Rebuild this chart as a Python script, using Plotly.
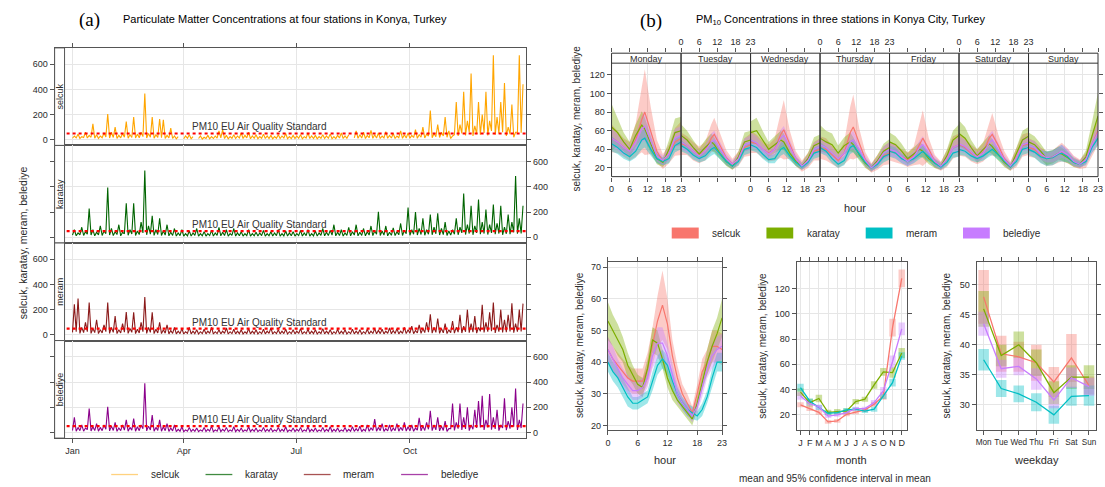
import plotly.graph_objects as go
import pandas as pd

# ======================= (a) time series: per 3-day bin, a peak and a low reading =======================
START = "2018-01-01"
STEP_DAYS = 3
SELCUK = [30, 45, 25, 60, 35, 126, 40, 30, 55, 205, 60, 100, 35, 50, 145, 40, 180, 45, 60, 368,
          50, 180, 40, 165, 158, 35, 92, 30, 25, None, 30, 40, 25, None, 30, 20, 35, 25, 30, 70,
          80, 35, 25, 40, 30, 55, 35, 60, 30, 40, 25, 45, 30, 35, 25, 40, 30, 50, 25, 35,
          30, 40, 25, 55, 30, 35, 25, 40, 30, 45, 25, 35, 55, 30, 40, None, 70, 40, 60, 35,
          75, 40, 55, 30, 65, 35, 50, 30, 70, 40, 55, 35, 80, 40, 100, 45, 231, 50, 120, 60,
          180, 70, 30, 300, 120, 380, 150, 526, 110, 300, 200, 380, 150, 670, 180, 300, 450, 100, 280, 60,
          670, 440]
SELCUK_LOW = [12, 15, 10, 18, 14, 20, 12, 10, 16, 22, 14, 18, 10, 15, 20, 12, 18, 14, 16, 25,
              14, 20, 12, 18, 16, 10, 14, 10, 8, None, 8, 12, 8, None, 10, 6, 10, 8, 10, 14,
              15, 10, 8, 12, 10, 14, 10, 15, 8, 12, 8, 12, 10, 10, 8, 12, 10, 14, 8, 10,
              10, 12, 8, 14, 10, 10, 8, 12, 10, 12, 8, 10, 14, 10, 12, None, 15, 12, 14, 10,
              16, 12, 14, 10, 15, 12, 14, 10, 16, 12, 14, 12, 18, 12, 20, 14, 30, 16, 24, 18,
              30, 20, 10, 40, 30, 50, 35, 60, 30, 45, 40, 55, 35, 70, 40, 50, 60, 30, 45, 20,
              60, 55]
KARATAY = [60, 35, 80, 45, 229, 60, 40, 90, 50, 395, 70, 45, 100, 40, 271, 60, 271, 50, 120, 531,
           90, 170, 60, 150, 50, 100, 40, 70, 35, 60, 30, 50, 35, 70, 30, 45, 30, 55, 35, 80,
           40, 60, 30, 70, 35, 45, 30, 60, 30, 40, 35, 55, 30, 45, 35, 60, 30, 50, 35, 45,
           30, 55, 35, 60, 30, 50, 35, 70, 40, 55, 100, 40, 60, 35, 80, 45, 100, 40, 70, 45,
           90, 50, 202, 50, 90, 40, 75, 45, 110, 55, 237, 60, 200, 70, 150, 60, 180, 80, 190, 70,
           120, 50, 60, 150, 80, 347, 100, 250, 90, 300, 120, 220, 100, 260, 110, 250, 80, 180, 120, 487,
           150, 250]
KARATAY_LOW = [18, 12, 20, 15, 25, 18, 12, 20, 15, 30, 18, 14, 22, 12, 28, 16, 26, 14, 22, 35,
               20, 25, 15, 22, 14, 18, 12, 15, 10, 14, 10, 12, 10, 15, 10, 12, 10, 14, 10, 16,
               12, 14, 10, 15, 10, 12, 10, 14, 10, 12, 10, 14, 10, 12, 10, 14, 10, 12, 10, 12,
               10, 14, 10, 14, 10, 12, 10, 15, 12, 14, 18, 12, 14, 10, 16, 12, 18, 12, 15, 12,
               18, 14, 25, 14, 18, 12, 16, 14, 20, 15, 28, 16, 25, 18, 22, 16, 25, 20, 28, 18,
               22, 15, 18, 25, 20, 35, 22, 30, 20, 35, 25, 30, 22, 35, 25, 30, 20, 28, 25, 40,
               28, 30]
MERAM = [243, 288, 60, 100, 256, 50, 120, 40, 80, 256, 60, 150, 40, 90, 182, 50, 180, 45, 100, 300,
         60, 180, 45, 100, 40, 80, 35, 60, 30, 50, 25, 60, 30, 40, 25, 45, 30, 60, 25, 40,
         30, 55, 25, 45, 30, 40, 25, 50, 30, 40, 25, 45, 30, 55, 25, 40, 30, 45, 25, 40,
         30, 50, 25, 45, 30, 40, 25, 50, 30, 40, 25, 45, 30, 40, 25, 45, 30, 40, 25, 45,
         30, 50, 35, 45, 30, 55, 35, 50, 30, 60, 40, 70, 35, 80, 50, 100, 164, 60, 130, 50,
         90, 40, 110, 60, 160, 70, 200, 90, 150, 60, 238, 100, 180, 256, 80, 200, 120, 160, 250, 90,
         200, 248]
MERAM_LOW = [20, 25, 12, 18, 25, 12, 18, 10, 15, 25, 12, 20, 10, 15, 22, 12, 20, 10, 15, 25,
             12, 20, 10, 15, 10, 14, 8, 12, 8, 10, 7, 12, 8, 10, 7, 10, 8, 12, 7, 10,
             8, 12, 7, 10, 8, 10, 7, 11, 8, 10, 7, 10, 8, 12, 7, 10, 8, 10, 7, 10,
             8, 11, 7, 10, 8, 10, 7, 11, 8, 10, 7, 10, 8, 10, 7, 10, 8, 10, 7, 10,
             8, 11, 9, 10, 8, 12, 9, 11, 8, 12, 10, 14, 9, 15, 12, 18, 22, 14, 20, 12,
             16, 10, 18, 14, 22, 15, 25, 18, 22, 14, 28, 20, 25, 30, 16, 25, 20, 22, 28, 18,
             25, 28]
BELEDIYE = [119, 40, 60, 35, 190, 45, 70, 40, 60, 204, 50, 80, 35, 60, 100, 40, 110, 45, 60, 391,
            50, 137, 40, 100, 45, 70, 35, 60, 25, 45, 20, 40, 25, 35, 20, 40, 25, 50, 20, 45,
            25, 40, 20, 45, 25, 35, 20, 45, 25, 35, 20, 40, 25, 35, 20, 40, 25, 45, 20, 35,
            25, 40, 20, 45, 25, 35, 20, 40, 25, 45, 25, 35, 20, 40, 25, 45, 30, 50, 25, 60,
            35, 106, 40, 70, 30, 60, 35, 70, 40, 80, 45, 60, 35, 116, 50, 80, 172, 60, 120, 50,
            90, 30, 230, 80, 230, 120, 200, 60, 180, 250, 290, 100, 304, 120, 180, 60, 270, 90, 200, 349,
            100, 230]
BELEDIYE_LOW = [15, 10, 14, 10, 22, 12, 15, 10, 14, 25, 12, 16, 9, 14, 18, 10, 18, 10, 14, 30,
                12, 20, 10, 16, 10, 14, 8, 12, 7, 10, 6, 10, 7, 9, 6, 10, 7, 11, 6, 10,
                7, 10, 6, 10, 7, 9, 6, 10, 7, 9, 6, 10, 7, 9, 6, 10, 7, 10, 6, 9,
                7, 10, 6, 10, 7, 9, 6, 10, 7, 10, 7, 9, 6, 10, 7, 10, 8, 11, 7, 12,
                9, 16, 10, 14, 8, 12, 9, 14, 10, 15, 11, 13, 9, 18, 12, 16, 25, 14, 20, 12,
                16, 8, 30, 16, 30, 20, 28, 14, 25, 35, 40, 20, 40, 22, 28, 14, 35, 18, 30, 45,
                20, 35]
STATIONS = ["selcuk", "karatay", "meram", "belediye"]
EU_STANDARD = 50
EU_LABEL = "PM10 EU Air Quality Standard"
EU_LABEL_DATE = "2018-06-01"
A_TICKVALS = ["2018-01-01", "2018-04-01", "2018-07-01", "2018-10-01"]
A_TICKTEXT = ["Jan", "Apr", "Jul", "Oct"]
A_YTICKS = [0, 200, 400, 600]

# ======================= (b) day-of-week x hour =======================
DAYS = ["Monday", "Tuesday", "Wednesday", "Thursday", "Friday", "Saturday", "Sunday"]
W_HOURS = [0, 2, 4, 6, 8, 10, 11, 13, 15, 17, 19, 21, 23]
WEEK_SELCUK = [
    [52, 48, 42, 38, 50, 72, 80, 60, 38, 27, 35, 48, 52],
    [46, 44, 38, 34, 38, 52, 56, 44, 31, 24, 30, 42, 45],
    [48, 46, 40, 36, 40, 56, 61, 45, 30, 22, 28, 38, 40],
    [42, 40, 34, 28, 36, 58, 64, 47, 29, 20, 26, 33, 36],
    [38, 36, 32, 29, 33, 46, 52, 40, 27, 22, 30, 42, 45],
    [45, 42, 36, 32, 37, 52, 56, 44, 30, 22, 31, 44, 46],
    [42, 40, 34, 30, 31, 35, 37, 33, 27, 24, 28, 45, 60]]
WEEK_KARATAY = [
    [64, 58, 48, 40, 55, 66, 62, 45, 30, 26, 40, 58, 60],
    [55, 50, 42, 35, 42, 48, 45, 35, 27, 22, 32, 48, 50],
    [58, 60, 50, 40, 45, 50, 48, 36, 27, 22, 30, 44, 47],
    [52, 48, 45, 36, 44, 48, 45, 34, 25, 20, 28, 38, 42],
    [48, 45, 38, 30, 35, 40, 38, 30, 25, 22, 33, 50, 55],
    [57, 52, 42, 33, 40, 46, 43, 34, 26, 21, 35, 50, 54],
    [48, 45, 38, 30, 32, 36, 35, 31, 26, 24, 32, 55, 76]]
WEEK_MERAM = [
    [46, 42, 36, 32, 38, 50, 52, 40, 30, 27, 30, 44, 48],
    [44, 40, 34, 30, 33, 40, 42, 34, 27, 22, 27, 40, 42],
    [45, 42, 35, 29, 30, 40, 42, 33, 26, 21, 26, 36, 38],
    [42, 38, 30, 24, 28, 42, 44, 35, 26, 20, 24, 32, 35],
    [38, 36, 30, 27, 30, 36, 38, 32, 25, 21, 26, 36, 38],
    [40, 38, 33, 30, 33, 38, 40, 34, 27, 21, 27, 40, 42],
    [40, 37, 32, 30, 31, 35, 36, 32, 26, 24, 27, 42, 52]]
WEEK_BELEDIYE = [
    [52, 48, 42, 38, 48, 62, 65, 50, 33, 28, 35, 52, 55],
    [48, 44, 38, 33, 38, 48, 50, 40, 30, 24, 30, 45, 47],
    [50, 47, 40, 35, 40, 52, 55, 42, 30, 22, 28, 40, 43],
    [45, 42, 36, 30, 36, 48, 50, 40, 28, 20, 26, 36, 40],
    [40, 38, 32, 27, 32, 42, 45, 36, 27, 22, 30, 42, 45],
    [46, 43, 37, 32, 36, 47, 50, 40, 29, 22, 31, 45, 47],
    [44, 42, 35, 31, 32, 36, 38, 34, 27, 24, 29, 45, 58]]
WCI_SELCUK = [
    [15, 12, 10, 10, 18, 35, 46, 25, 12, 8, 10, 15, 18],
    [12, 10, 10, 9, 10, 15, 18, 12, 8, 6, 8, 10, 12],
    [12, 10, 9, 9, 12, 25, 32, 15, 8, 6, 8, 10, 12],
    [12, 12, 10, 8, 12, 28, 35, 15, 8, 5, 8, 10, 12],
    [10, 10, 8, 8, 10, 22, 30, 12, 7, 5, 9, 12, 12],
    [12, 10, 9, 8, 10, 18, 23, 12, 8, 5, 10, 12, 12],
    [10, 9, 8, 8, 8, 9, 10, 8, 6, 5, 8, 12, 15]]
WCI_KARATAY = [
    [25, 15, 10, 8, 12, 15, 12, 9, 6, 5, 10, 15, 15],
    [12, 10, 8, 6, 8, 9, 8, 6, 5, 4, 6, 10, 10],
    [12, 14, 10, 8, 9, 10, 9, 6, 5, 4, 6, 9, 9],
    [14, 12, 12, 8, 9, 10, 8, 6, 5, 4, 6, 8, 9],
    [10, 9, 8, 6, 7, 8, 7, 6, 5, 4, 7, 10, 12],
    [14, 12, 8, 7, 8, 9, 8, 6, 5, 4, 7, 10, 10],
    [10, 9, 8, 7, 7, 7, 7, 6, 5, 4, 7, 14, 25]]
WCI_MERAM = [
    [8, 7, 6, 5, 7, 10, 10, 7, 5, 4, 5, 7, 8],
    [6, 5, 5, 4, 5, 7, 7, 5, 4, 3, 4, 6, 6],
    [6, 5, 5, 4, 5, 7, 7, 5, 4, 3, 4, 6, 6],
    [6, 5, 5, 4, 5, 7, 7, 5, 4, 3, 4, 6, 6],
    [6, 6, 5, 5, 5, 6, 6, 5, 4, 3, 4, 5, 6],
    [6, 5, 5, 4, 5, 6, 6, 5, 4, 3, 4, 6, 6],
    [6, 6, 7, 8, 8, 8, 9, 6, 4, 3, 4, 6, 8]]
WCI_BELEDIYE = [
    [10, 9, 8, 6, 9, 14, 16, 10, 6, 5, 7, 10, 10],
    [8, 7, 6, 5, 6, 9, 10, 7, 5, 4, 5, 7, 8],
    [8, 7, 6, 5, 6, 9, 10, 7, 5, 4, 5, 7, 8],
    [8, 7, 6, 5, 6, 9, 10, 7, 5, 4, 5, 7, 8],
    [7, 7, 6, 5, 6, 8, 9, 6, 5, 4, 5, 7, 8],
    [8, 7, 6, 5, 6, 9, 10, 7, 5, 4, 5, 7, 8],
    [7, 7, 6, 5, 6, 7, 7, 6, 5, 4, 5, 8, 10]]
W_XTICKS = [0, 6, 12, 18, 23]
W_YTICKS = [20, 40, 60, 80, 100, 120]

# ======================= (b) hour of day =======================
HOURS = list(range(24))
HOUR_SELCUK = [44, 41, 39, 37, 35, 34, 34, 34, 38, 45, 53, 58, 52, 42, 35, 30, 27, 24, 30, 37, 40, 45, 45, 44]
HOUR_KARATAY = [53, 50, 47, 44, 39, 36, 33, 32, 38, 47, 46, 41, 35, 31, 28, 26, 24, 22, 27, 34, 40, 45, 49, 54]
HOUR_MERAM = [40, 37, 35, 32, 29, 27, 27, 28, 29, 34, 39, 41, 39, 34, 30, 27, 25, 24, 23, 25, 29, 35, 40, 40]
HOUR_BELEDIYE = [44, 41, 38, 35, 33, 31, 31, 32, 35, 42, 46, 46, 42, 36, 30, 27, 25, 23, 26, 32, 38, 42, 44, 45]
HCI_SELCUK = [4, 4, 4, 4, 4, 4, 4, 4, 5, 6, 8, 11, 8, 5, 4, 3, 3, 2, 3, 4, 4, 5, 5, 5]
HCI_KARATAY = [6, 5, 5, 4, 4, 3, 3, 3, 3, 4, 4, 3, 3, 3, 2, 2, 2, 2, 2, 3, 4, 5, 5, 6]
HCI_MERAM = [3, 3, 3, 3, 3, 2, 2, 2, 2, 3, 3, 3, 3, 3, 2, 2, 2, 2, 1.5, 2, 2, 3, 3, 3]
HCI_BELEDIYE = [4, 4, 3, 3, 3, 3, 3, 3, 3, 4, 5, 5, 4, 3, 3, 2, 2, 2, 2, 3, 3, 4, 4, 4]
H_YTICKS = [20, 30, 40, 50, 60, 70]

# ======================= (b) month =======================
MONTHS = list(range(1, 13))
MONTH_LABELS = ["J", "F", "M", "A", "M", "J", "J", "A", "S", "O", "N", "D"]
MONTH_SELCUK = [28, 25, 22, 14.5, 15.3, 20.5, 22, 24, 28.4, 35, 89, 128]
MONTH_KARATAY = [38, 29.7, 33, 22, 22.6, 23, 30.5, 32.4, 43.7, 54, 53.4, 69]
MONTH_MERAM = [41.6, 31, 25.8, 21.3, 21.8, 24, 24.5, 23, 24.5, 34.5, 45.5, 66.6]
MONTH_BELEDIYE = [35, 29, 26.3, 19, 20, 21.8, 25, 25, 29.7, 39, 62, 88]
MCI_SELCUK = [2, 2, 2, 1.5, 1.5, 1.5, 1.5, 1.5, 2, 3, 7, 7]
MCI_KARATAY = [3, 3, 3, 2, 2, 2, 2, 2, 3, 3, 4, 4]
MCI_MERAM = [3, 2, 2, 1.5, 1.5, 1.5, 1.5, 1.5, 2, 2, 3, 3]
MCI_BELEDIYE = [3, 2, 2, 1.5, 1.5, 1.5, 1.5, 1.5, 2, 3, 5, 5]
M_YTICKS = [20, 40, 60, 80, 100, 120]

# ======================= (b) weekday =======================
WEEKDAYS = [1, 2, 3, 4, 5, 6, 7]
WEEKDAY_LABELS = ["Mon", "Tue", "Wed", "Thu", "Fri", "Sat", "Sun"]
WD_SELCUK = [48, 38.5, 38, 37, 33.8, 37.8, 33.2]
WD_KARATAY = [46, 38.2, 40, 37, 32, 34.6, 34.6]
WD_MERAM = [37.5, 32.7, 31.8, 30.4, 28.3, 31.4, 31.5]
WD_BELEDIYE = [43.5, 36, 36.4, 34.3, 30.8, 34.5, 33]
WDCI_SELCUK = [4.5, 3, 2.5, 3, 2.5, 4, 1.5]
WDCI_KARATAY = [3, 1.8, 2.2, 2.2, 1.9, 2, 2]
WDCI_MERAM = [1.8, 1.4, 1.4, 1.5, 1.5, 1.6, 1.7]
WDCI_BELEDIYE = [2, 1.5, 1.5, 1.8, 1.4, 1.7, 1.5]
WD_YTICKS = [30, 35, 40, 45, 50]

# ======================= styling =======================
W, H = 1105, 487
FONT = "Liberation Sans, Arial, sans-serif"
SERIF = "Liberation Serif, Times New Roman, serif"
TXT = "#2b2b2b"
FRAME = "#555555"
GRID = "#e6e6e6"
TS_COLORS = ["#FFA500", "#006400", "#8B1A1A", "#8B008B"]
TS_LEG = ["rgba(255,165,0,0.5)", "rgba(0,100,0,0.75)", "rgba(139,26,26,0.75)", "rgba(139,0,139,0.75)"]
B_COLORS = ["#F8766D", "#7CAE00", "#00BFC4", "#C77CFF"]
B_FILLS = ["rgba(248,118,109,0.38)", "rgba(124,174,0,0.38)", "rgba(0,191,196,0.38)", "rgba(199,124,255,0.38)"]


def fx(p):
    return p / W


def fy(p):
    return 1 - p / H


def ax(prefix, n):
    return prefix + ("" if n == 1 else str(n))


def axkey(prefix, n):
    return prefix + "axis" + ("" if n == 1 else str(n))


tickfont = dict(family=FONT, size=9, color=TXT)
fig = go.Figure()
layout = {}
shapes = []
ann = []


def text(t, px, py, size=10, angle=0, family=FONT, color=TXT, xanchor="center"):
    ann.append(dict(text=t, x=fx(px), y=fy(py), xref="paper", yref="paper", showarrow=False,
                    xanchor=xanchor, yanchor="middle", textangle=angle,
                    font=dict(family=family, size=size, color=color)))


# ---------------------------------------------------------------- (a)
ts_high = [SELCUK, KARATAY, MERAM, BELEDIYE]
ts_low = [SELCUK_LOW, KARATAY_LOW, MERAM_LOW, BELEDIYE_LOW]
t0 = pd.Timestamp(START)
bins = pd.date_range(START, periods=len(SELCUK), freq=f"{STEP_DAYS}D")
ts_x = []
for b in bins:
    ts_x.append(b.strftime("%Y-%m-%d %H:%M"))
    ts_x.append((b + pd.Timedelta(hours=36)).strftime("%Y-%m-%d %H:%M"))
xr = [(t0 + pd.Timedelta(days=-14.46)).strftime("%Y-%m-%d %H:%M"),
      (t0 + pd.Timedelta(days=367.07)).strftime("%Y-%m-%d %H:%M")]
A_L, A_R, A_TOP, A_PH = 52, 527, 48, 97.75
for k, name in enumerate(STATIONS):
    n = k + 1
    top = A_TOP + A_PH * k
    bot = top + A_PH
    ys = []
    for lo_v, hi_v in zip(ts_low[k], ts_high[k]):
        ys.extend([lo_v, hi_v])
    fig.add_trace(go.Scatter(x=ts_x, y=ys, mode="lines", line=dict(color=TS_COLORS[k], width=1.1),
                             xaxis=ax("x", n), yaxis=ax("y", n), showlegend=False, hoverinfo="skip"))
    fig.add_trace(go.Scatter(x=xr, y=[EU_STANDARD, EU_STANDARD], mode="lines",
                             line=dict(color="#FF0000", width=2.2, dash="dot"),
                             xaxis=ax("x", n), yaxis=ax("y", n), showlegend=False, hoverinfo="skip"))
    layout[axkey("x", n)] = dict(domain=[fx(A_L), fx(A_R)], anchor=ax("y", n), type="date", range=xr,
                                 tickvals=A_TICKVALS, ticktext=A_TICKTEXT, showgrid=True, gridcolor=GRID,
                                 showline=True, mirror=True, linecolor=FRAME, linewidth=1, zeroline=False,
                                 side="top" if k == 0 else "bottom",
                                 ticks="outside" if k in (0, 3) else "", ticklen=4, tickcolor=FRAME,
                                 showticklabels=(k == 3), tickfont=tickfont, tickangle=0)
    layout[axkey("y", n)] = dict(domain=[fy(bot), fy(top)], anchor=ax("x", n), range=[-45, 729],
                                 tickvals=A_YTICKS, side="left" if k % 2 == 0 else "right",
                                 mirror="ticks", ticks="outside", ticklen=4, tickcolor=FRAME,
                                 showline=True, linecolor=FRAME, linewidth=1, showgrid=True, gridcolor=GRID,
                                 zeroline=False, tickfont=tickfont)
    shapes.append(dict(type="rect", xref="paper", yref="paper", x0=fx(A_L), x1=fx(62), y0=fy(bot), y1=fy(top),
                       fillcolor="white", line=dict(color=FRAME, width=1), layer="above"))
    text(name, 57.3, (top + bot) / 2, size=9, angle=-90)
    ann.append(dict(text=EU_LABEL, x=EU_LABEL_DATE, y=EU_STANDARD, xref=ax("x", n), yref=ax("y", n),
                    showarrow=False, xanchor="center", yanchor="bottom", yshift=-1,
                    font=dict(family=FONT, size=10, color="#333")))

text("selcuk, karatay, meram, belediye", 20, 243, size=10.5, angle=-90)
text("(a)", 87, 20, size=19, family=SERIF, color="black")
text("Particulate Matter Concentrations at four stations in Konya, Turkey", 284, 19, size=11, color="black")
for (l0, l1, tx), name, col in zip([(109, 136, 147), (204, 231, 242), (303, 330, 340), (401, 428, 439)],
                                   STATIONS, TS_LEG):
    shapes.append(dict(type="line", xref="paper", yref="paper", x0=fx(l0), x1=fx(l1), y0=fy(475.5), y1=fy(475.5),
                       line=dict(color=col, width=1.3)))
    text(name, tx, 475.5, size=10, xanchor="left")

# ---------------------------------------------------------------- (b) top: day x hour
week_means = [WEEK_SELCUK, WEEK_KARATAY, WEEK_MERAM, WEEK_BELEDIYE]
week_cis = [WCI_SELCUK, WCI_KARATAY, WCI_MERAM, WCI_BELEDIYE]
B_L, B_DW, B_STRIP_T, B_STRIP_B, B_BOT = 613, 70, 53.3, 63.3, 177
W_YR = [10.7, 132.5]
for d, day in enumerate(DAYS):
    n = 5 + d          # panel axes x5..x11 / y5..y11
    nt = 12 + d        # strip axes x12..x18 / y12..y18
    x0 = B_L + B_DW * d
    x1 = x0 + B_DW
    for s in range(4):
        m = week_means[s][d]
        c = week_cis[s][d]
        up = [a + b for a, b in zip(m, c)]
        lo = [a - b for a, b in zip(m, c)]
        fig.add_trace(go.Scatter(x=W_HOURS + W_HOURS[::-1], y=up + lo[::-1], fill="toself",
                                 fillcolor=B_FILLS[s], line=dict(width=0), mode="lines",
                                 xaxis=ax("x", n), yaxis=ax("y", n), showlegend=False, hoverinfo="skip"))
    for s in range(4):
        fig.add_trace(go.Scatter(x=W_HOURS, y=week_means[s][d], mode="lines",
                                 line=dict(color=B_COLORS[s], width=1.2),
                                 xaxis=ax("x", n), yaxis=ax("y", n), showlegend=False, hoverinfo="skip"))
    layout[axkey("x", n)] = dict(domain=[fx(x0), fx(x1)], anchor=ax("y", n), range=[0, 23], tickvals=W_XTICKS,
                                 ticks="outside", ticklen=4, tickcolor=FRAME, showticklabels=(d % 2 == 0),
                                 showgrid=True, gridcolor=GRID, showline=False, zeroline=False,
                                 tickfont=tickfont, tickangle=0)
    ydef = dict(domain=[fy(B_BOT), fy(B_STRIP_B)], anchor=ax("x", n), range=W_YR, tickvals=W_YTICKS,
                showline=False, showgrid=True, gridcolor=GRID, zeroline=False, tickfont=tickfont,
                ticks="", showticklabels=False)
    if d == 0:
        ydef.update(ticks="outside", ticklen=4, tickcolor=FRAME, showticklabels=True)
    if d == 6:
        ydef.update(side="right", ticks="outside", ticklen=4, tickcolor=FRAME, showticklabels=False)
    layout[axkey("y", n)] = ydef
    # strip sub-plot carrying the top tick axis
    fig.add_trace(go.Scatter(x=[], y=[], xaxis=ax("x", nt), yaxis=ax("y", nt), showlegend=False,
                             hoverinfo="skip"))
    layout[axkey("x", nt)] = dict(domain=[fx(x0), fx(x1)], anchor=ax("y", nt), side="top", range=[0, 23],
                                  tickvals=W_XTICKS, ticks="outside", ticklen=4, tickcolor=FRAME,
                                  showticklabels=(d % 2 == 1), showgrid=False, showline=False, zeroline=False,
                                  tickfont=tickfont, tickangle=0)
    layout[axkey("y", nt)] = dict(domain=[fy(B_STRIP_B), fy(B_STRIP_T)], anchor=ax("x", nt), range=[0, 1],
                                  showgrid=False, showticklabels=False, zeroline=False, ticks="", showline=False)
    shapes.append(dict(type="rect", xref="paper", yref="paper", x0=fx(x0), x1=fx(x1), y0=fy(B_BOT),
                       y1=fy(B_STRIP_T), line=dict(color="#333333", width=1), layer="above"))
    text(day, (x0 + x1) / 2, (B_STRIP_T + B_STRIP_B) / 2 + 0.5, size=9)
shapes.append(dict(type="line", xref="paper", yref="paper", x0=fx(B_L), x1=fx(B_L + 7 * B_DW),
                   y0=fy(B_STRIP_B), y1=fy(B_STRIP_B), line=dict(color="#333333", width=1), layer="above"))

text("selcuk, karatay, meram, belediye", 578, 119, size=10, angle=-90)
text("hour", 858, 208, size=11)
text("(b)", 653, 21, size=19, family=SERIF, color="black")
text("PM<sub>10</sub> Concentrations in three stations in Konya City, Turkey", 844, 20, size=11, color="black")
for (r0, r1, tx), name, col in zip([(673.6, 700.8, 712), (769, 796, 808), (869, 896, 907.6), (967, 994, 1005.5)],
                                   STATIONS, B_COLORS):
    shapes.append(dict(type="rect", xref="paper", yref="paper", x0=fx(r0), x1=fx(r1), y0=fy(239), y1=fy(228),
                       fillcolor=col, line=dict(width=0)))
    text(name, tx, 233.5, size=10, xanchor="left")

# ---------------------------------------------------------------- bottom panels
P_TOP, P_BOT = 262.7, 430.7


def panel_axes(n, x0, x1, xr_, xt, xtt, yr_, yt, xfont=tickfont):
    layout[axkey("x", n)] = dict(domain=[fx(x0), fx(x1)], anchor=ax("y", n), range=xr_, tickvals=xt,
                                 ticktext=xtt, ticks="outside", ticklen=4, tickcolor=FRAME, mirror="ticks",
                                 showline=True, linecolor=FRAME, linewidth=1, showgrid=True, gridcolor=GRID,
                                 zeroline=False, tickfont=xfont, tickangle=0)
    layout[axkey("y", n)] = dict(domain=[fy(P_BOT), fy(P_TOP)], anchor=ax("x", n), range=yr_, tickvals=yt,
                                 ticks="outside", ticklen=4, tickcolor=FRAME, mirror="ticks", showline=True,
                                 linecolor=FRAME, linewidth=1, showgrid=True, gridcolor=GRID, zeroline=False,
                                 tickfont=tickfont)


# hour panel
hour_means = [HOUR_SELCUK, HOUR_KARATAY, HOUR_MERAM, HOUR_BELEDIYE]
hour_cis = [HCI_SELCUK, HCI_KARATAY, HCI_MERAM, HCI_BELEDIYE]
for s in range(4):
    up = [a + b for a, b in zip(hour_means[s], hour_cis[s])]
    lo = [a - b for a, b in zip(hour_means[s], hour_cis[s])]
    fig.add_trace(go.Scatter(x=HOURS + HOURS[::-1], y=up + lo[::-1], fill="toself", fillcolor=B_FILLS[s],
                             line=dict(width=0), mode="lines", xaxis="x19", yaxis="y19", showlegend=False,
                             hoverinfo="skip"))
for s in range(4):
    fig.add_trace(go.Scatter(x=HOURS, y=hour_means[s], mode="lines", line=dict(color=B_COLORS[s], width=1.2),
                             xaxis="x19", yaxis="y19", showlegend=False, hoverinfo="skip"))
panel_axes(19, 609.3, 724.3, [0, 23], W_XTICKS, [str(v) for v in W_XTICKS], [18.6, 71.6], H_YTICKS)

# month panel
month_means = [MONTH_SELCUK, MONTH_KARATAY, MONTH_MERAM, MONTH_BELEDIYE]
month_cis = [MCI_SELCUK, MCI_KARATAY, MCI_MERAM, MCI_BELEDIYE]
for s in range(4):
    lo = [a - b for a, b in zip(month_means[s], month_cis[s])]
    fig.add_trace(go.Bar(x=MONTHS, y=[2 * c for c in month_cis[s]], base=lo, width=0.7,
                         marker=dict(color=B_FILLS[s], line=dict(width=0)), xaxis="x20", yaxis="y20",
                         showlegend=False, hoverinfo="skip"))
for s in range(4):
    fig.add_trace(go.Scatter(x=MONTHS, y=month_means[s], mode="lines", line=dict(color=B_COLORS[s], width=1.3),
                             xaxis="x20", yaxis="y20", showlegend=False, hoverinfo="skip"))
panel_axes(20, 799.3, 910.3, [0.57, 12.54], MONTHS, MONTH_LABELS, [8.2, 140.8], M_YTICKS)

# weekday panel
wd_means = [WD_SELCUK, WD_KARATAY, WD_MERAM, WD_BELEDIYE]
wd_cis = [WDCI_SELCUK, WDCI_KARATAY, WDCI_MERAM, WDCI_BELEDIYE]
for s in range(4):
    lo = [a - b for a, b in zip(wd_means[s], wd_cis[s])]
    fig.add_trace(go.Bar(x=WEEKDAYS, y=[2 * c for c in wd_cis[s]], base=lo, width=0.6,
                         marker=dict(color=B_FILLS[s], line=dict(width=0)), xaxis="x21", yaxis="y21",
                         showlegend=False, hoverinfo="skip"))
for s in range(4):
    fig.add_trace(go.Scatter(x=WEEKDAYS, y=wd_means[s], mode="lines", line=dict(color=B_COLORS[s], width=1.3),
                             xaxis="x21", yaxis="y21", showlegend=False, hoverinfo="skip"))
panel_axes(21, 980.7, 1101, [0.6, 7.4], WEEKDAYS, WEEKDAY_LABELS, [25.8, 53.8], WD_YTICKS,
           xfont=dict(family=FONT, size=8.2, color=TXT))

for xc in (580, 765, 950):
    text("selcuk, karatay, meram, belediye", xc, 346, size=10, angle=-90)
for xc, xt in [(667, "hour"), (855, "month"), (1041, "weekday")]:
    text(xt, xc, 461, size=11)
text("mean and 95% confidence interval in mean", 838, 479, size=10)

fig.update_layout(width=W, height=H, autosize=False, margin=dict(l=0, r=0, t=0, b=0),
                  paper_bgcolor="white", plot_bgcolor="white", barmode="overlay",
                  font=dict(family=FONT, size=9, color=TXT), shapes=shapes, annotations=ann, **layout)
fig.write_html("out.html")
